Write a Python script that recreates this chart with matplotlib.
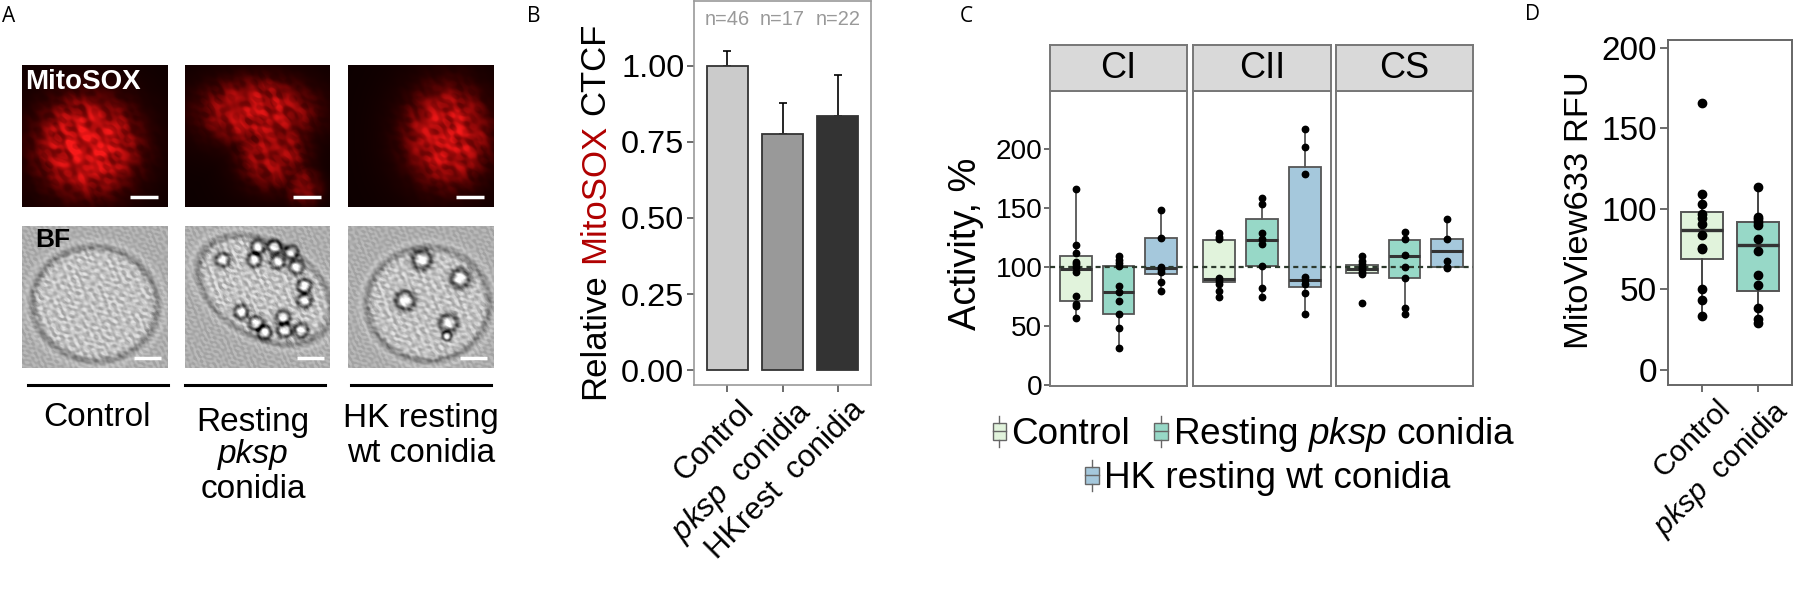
import numpy as np
import matplotlib
matplotlib.use("Agg")
import matplotlib.pyplot as plt
from matplotlib.patches import Rectangle, Patch
from matplotlib.lines import Line2D
from matplotlib.legend_handler import HandlerBase
from matplotlib.transforms import ScaledTranslation

W, H, DPI = 1794, 590, 100
plt.rcParams['font.family'] = ['Liberation Sans', 'DejaVu Sans']
plt.rcParams['mathtext.fontset'] = 'custom'
plt.rcParams['mathtext.rm'] = 'Liberation Sans'
plt.rcParams['mathtext.it'] = 'Liberation Sans:italic'
plt.rcParams['mathtext.bf'] = 'Liberation Sans:bold'

# ---------------- data ----------------
# Panel B
b_categories = ['Control', r'$\mathit{pksp}$  conidia', 'HKrest  conidia']
b_means = [1.00, 0.777, 0.835]
b_err_upper = [0.049, 0.102, 0.135]
b_n_labels = ['n=46', 'n=17', 'n=22']
b_ticks = [0.0, 0.25, 0.50, 0.75, 1.00]
b_colors = ['#cbcbcb', '#999999', '#333333']

# Panel C
c_groups = ['Control', r'Resting $\mathit{pksp}$ conidia', 'HK resting wt conidia']
c_facets = ['CI', 'CII', 'CS']
c_points_CI = [
    [166, 119, 111.6, 104.5, 102.5, 99.7, 95.8, 75.4, 69, 67, 57],
    [109, 106, 103.7, 101, 84, 78.5, 71.5, 60, 48, 31.6],
    [148, 125, 100, 98, 96, 87, 80],
]
c_points_CII = [
    [128.5, 125.7, 123.4, 91, 88, 86, 80, 75],
    [158.5, 153, 128.5, 123.4, 119.5, 101, 82.5, 75],
    [216.7, 202, 179, 91.8, 89, 86, 78, 60],
]
c_points_CS = [
    [109.6, 105, 102.5, 100, 98, 96, 94, 69.7],
    [130, 123.5, 110, 100, 91, 65, 60],
    [140.7, 123.7, 105, 100, 99],
]
# box statistics: [whisker low, Q1, median, Q3, whisker high]
c_box_CI = [[57, 71, 98, 109, 166], [31.6, 60, 79, 101, 109], [80, 94, 99, 125, 148]]
c_box_CII = [[75, 87, 90, 123, 128.5], [75, 101, 123, 141, 158.5], [60, 83, 89, 185, 216.7]]
c_box_CS = [[94, 95, 98, 102, 109.6], [60, 91, 109, 123, 130], [99, 100, 114, 124, 140.7]]
c_ticks = [0, 50, 100, 150, 200]
c_reference = 100
group_colors = ['#e1f3dc', '#97d8c7', '#a5c8dc']

# Panel D
d_categories = ['Control', r'$\mathit{pksp}$  conidia']
d_points = [
    [165.6, 109.3, 103, 96.9, 94.4, 90.3, 83.5, 75.8, 74.8, 50.1, 43.3, 33.3],
    [113.3, 95, 93.4, 91.9, 89.9, 81.4, 73.7, 58.8, 52.4, 38.1, 31.3, 29.2],
]
d_box = [[33.3, 68.8, 86.6, 98, 109.3], [29.2, 48.9, 77.5, 91.7, 113.3]]
d_ticks = [0, 50, 100, 150, 200]

# ---------------- helpers ----------------
def px_rect(x0, y0, x1, y1):
    return [x0 / W, 1 - y1 / H, (x1 - x0) / W, (y1 - y0) / H]


def to_stats(box):
    return [dict(whislo=b[0], q1=b[1], med=b[2], q3=b[3], whishi=b[4], fliers=[]) for b in box]


def grid(h=142, w=145):
    y, x = np.mgrid[0:h, 0:w]
    return x / (w - 1), y / (h - 1)


TEX_FX = [37, -29, 53, 17, -61, 44, 23, -47, 71, -13]
TEX_FY = [21, 43, -19, 57, 31, -38, -66, 12, -27, 69]
TEX_PH = [0.3, 1.7, 2.9, 4.1, 5.3, 0.9, 2.2, 3.6, 1.1, 4.8]


def texture(X, Y, scale=1.0, shift=0.0):
    t = np.zeros_like(X)
    for fx, fy, ph in zip(TEX_FX, TEX_FY, TEX_PH):
        t += np.sin(scale * (fx * X + fy * Y) + ph + shift)
    return np.tanh(t / 2.2)


def mito_img(blobs, gain, shift):
    X, Y = grid()
    I = np.zeros_like(X)
    halo = np.zeros_like(X)
    for cx, cy, rx, ry, amp in blobs:
        d = np.sqrt(((X - cx) / rx) ** 2 + ((Y - cy) / ry) ** 2)
        I = np.maximum(I, amp / (1 + np.exp((d - 0.95) / 0.18)))
        halo = np.maximum(halo, amp * np.exp(-(d / 1.5) ** 2))
    tex = 0.6 * texture(X, Y, 0.8, shift) + 0.4 * texture(X, Y, 1.6, shift + 1.0)
    I = I * (0.66 + 0.34 * tex) * gain + 0.16 * halo
    I = np.clip(I, 0, 1)
    rgb = np.stack([0.05 + 0.92 * I, 0.0 + 0.1 * I ** 2, 0.0 + 0.1 * I ** 2], axis=-1)
    return np.clip(rgb, 0, 1)


def bf_img(cell, conidia, shift, ring=0.06):
    X, Y = grid()
    img = 0.68 + 0.05 * texture(X, Y, 3.0, shift)
    cx, cy, rx, ry, ang = cell
    ca, sa = np.cos(ang), np.sin(ang)
    dx, dy = X - cx, Y - cy
    u = (dx * ca + dy * sa) / rx
    v = (-dx * sa + dy * ca) / ry
    d = np.sqrt(u ** 2 + v ** 2)
    inside = 1 / (1 + np.exp((d - 1) / 0.03))
    img = img + inside * (0.08 + 0.10 * texture(X, Y, 2.2, shift + 2.0))
    img = img - 0.24 * np.exp(-((d - 1) / ring) ** 2) * (0.8 + 0.2 * texture(X, Y, 1.3, shift))
    img = img + 0.06 * np.exp(-((d - 1.12) / 0.05) ** 2)
    for px_, py_, r in conidia:
        dd = np.sqrt((X - px_) ** 2 + (Y - py_) ** 2)
        img = img - 0.45 * np.exp(-((dd - r) / (0.4 * r)) ** 2)
        img = img + 0.35 * np.exp(-(dd / (0.7 * r)) ** 2)
    return np.clip(img, 0, 1)


class BoxKeyHandler(HandlerBase):
    def create_artists(self, legend, orig_handle, xdescent, ydescent, width, height, fontsize, trans):
        fc = orig_handle.get_facecolor()
        cx = -xdescent + width / 2
        y0 = -ydescent - height * 0.15
        hh = height * 1.3
        bw = width
        bh = hh * 0.55
        by = y0 + (hh - bh) / 2
        rect = Rectangle((cx - bw / 2, by), bw, bh, facecolor=fc, edgecolor='#666666', lw=1.0, transform=trans)
        med = Line2D([cx - bw / 2, cx + bw / 2], [y0 + hh / 2] * 2, color='#666666', lw=1.0, transform=trans)
        w1 = Line2D([cx, cx], [y0, by], color='#666666', lw=1.0, transform=trans)
        w2 = Line2D([cx, cx], [by + bh, y0 + hh], color='#666666', lw=1.0, transform=trans)
        return [rect, med, w1, w2]


fig = plt.figure(figsize=(W / DPI, H / DPI), dpi=DPI)

# overlay axes in pixel coordinates for free text and lines
ov = fig.add_axes([0, 0, 1, 1])
ov.set_xlim(0, W)
ov.set_ylim(H, 0)
ov.axis('off')

# ---------------- Panel A ----------------
mito_specs = [
    ([(0.45, 0.57, 0.33, 0.33, 1.0)], 1.0, 0.0),
    ([(0.50, 0.33, 0.36, 0.22, 1.0), (0.60, 0.60, 0.22, 0.25, 0.85), (0.82, 0.86, 0.12, 0.13, 0.6)], 0.8, 1.5),
    ([(0.68, 0.50, 0.27, 0.33, 1.0)], 0.9, 3.0),
]
bf_specs = [
    ((0.50, 0.55, 0.43, 0.40, 0.2), [], 0.0),
    ((0.55, 0.45, 0.50, 0.33, 0.55),
     [(0.259, 0.237, 0.045), (0.502, 0.145, 0.045), (0.618, 0.145, 0.045), (0.734, 0.184, 0.045),
      (0.479, 0.237, 0.045), (0.641, 0.25, 0.045), (0.769, 0.289, 0.045), (0.826, 0.421, 0.045),
      (0.826, 0.526, 0.045), (0.387, 0.605, 0.045), (0.491, 0.684, 0.045), (0.549, 0.75, 0.045),
      (0.676, 0.645, 0.045), (0.688, 0.737, 0.045), (0.803, 0.737, 0.045)], 1.0),
    ((0.55, 0.55, 0.42, 0.40, 0.0),
     [(0.506, 0.237, 0.06), (0.77, 0.368, 0.06), (0.39, 0.526, 0.06), (0.69, 0.684, 0.055),
      (0.678, 0.776, 0.03)], 2.0),
]
cols_x = [(22, 167), (185, 330), (348, 493)]
for i, (x0, x1) in enumerate(cols_x):
    am = fig.add_axes(px_rect(x0, 65, x1, 207))
    am.imshow(mito_img(*mito_specs[i]), aspect='auto', interpolation='bilinear')
    am.axis('off')
    am.plot([0.745, 0.94], [0.07, 0.07], color='white', lw=2.5, transform=am.transAxes, solid_capstyle='butt')
    ab = fig.add_axes(px_rect(x0, 226, x1, 368))
    ab.imshow(bf_img(*bf_specs[i]), cmap='gray', vmin=0, vmax=1, aspect='auto', interpolation='bilinear')
    ab.axis('off')
    ab.plot([0.77, 0.96], [0.07, 0.07], color='white', lw=2.5, transform=ab.transAxes, solid_capstyle='butt')
    if i == 0:
        am.text(0.02, 0.88, 'MitoSOX', color='white', fontsize=20, fontweight='bold',
                transform=am.transAxes, ha='left', va='center')
        ab.text(0.09, 0.90, 'BF', color='black', fontsize=19, fontweight='bold',
                transform=ab.transAxes, ha='left', va='center')

for (x0, x1) in [(28, 168), (185, 325), (351, 491)]:
    ov.plot([x0, x1], [385.3, 385.3], color='black', lw=2.2)

ov.text(97, 417, 'Control', fontsize=24, ha='center', va='center')
ov.text(253, 423, 'Resting', fontsize=24, ha='center', va='center')
ov.text(253, 455, 'pksp', fontsize=24, ha='center', va='center', fontstyle='italic')
ov.text(253, 489, 'conidia', fontsize=24, ha='center', va='center')
ov.text(421, 419, 'HK resting', fontsize=24, ha='center', va='center')
ov.text(421, 453, 'wt conidia', fontsize=24, ha='center', va='center')

# panel letters
for lab, x, y in [('A', 2, 17), ('B', 527, 17), ('C', 960, 17), ('D', 1525, 14)]:
    ov.text(x, y, lab, fontsize=15, ha='left', va='center', family=['Open Sans', 'DejaVu Sans'])

# ---------------- Panel B ----------------
axb = fig.add_axes(px_rect(694, 1, 871, 385))
xb = np.arange(1, len(b_means) + 1)
axb.errorbar(xb, b_means, yerr=[np.zeros(len(b_means)), b_err_upper], fmt='none',
             ecolor='black', elinewidth=1.2, capsize=3, capthick=1.2, zorder=2)
axb.bar(xb, b_means, width=0.74, color=b_colors, edgecolor='#333333', linewidth=1.3, zorder=3)
for x, lab in zip(xb, b_n_labels):
    axb.text(x, 1.153, lab, color='#999999', fontsize=14.4, ha='center', va='center')
axb.set_xlim(0.4, 3.6)
axb.set_ylim(-0.049, 1.213)
axb.set_yticks(b_ticks)
axb.set_yticklabels(['%.2f' % t for t in b_ticks])
axb.set_xticks(xb)
axb.set_xticklabels(b_categories, rotation=45, ha='right', va='top', rotation_mode='anchor')
axb.tick_params(axis='y', length=5, width=1.1, color='#444444', labelsize=23.4, pad=2)
axb.tick_params(axis='x', length=5, width=1.1, color='#444444', labelsize=22.3, pad=2)
for lab in axb.get_xticklabels():
    lab.set_transform(lab.get_transform() + ScaledTranslation(0.12, 0, fig.dpi_scale_trans))
for sp in axb.spines.values():
    sp.set_color('#999999')
    sp.set_linewidth(1.2)

# multi-coloured y label for B
renderer = fig.canvas.get_renderer()
parts = [('Relative', 'black'), ('MitoSOX', '#b00000'), ('CTCF', 'black')]
fs_b = 25
tmp = ov.text(0, 0, 'a a', fontsize=fs_b, rotation=90)
tmp2 = ov.text(0, 0, 'aa', fontsize=fs_b, rotation=90)
space = tmp.get_window_extent(renderer).height - tmp2.get_window_extent(renderer).height
tmp.remove(); tmp2.remove()
lens = []
for s, c in parts:
    t = ov.text(0, 0, s, fontsize=fs_b, rotation=90)
    lens.append(t.get_window_extent(renderer).height)
    t.remove()
total = sum(lens) + space * (len(parts) - 1)
ycur = 210.5 + total / 2
for (s, c), L in zip(parts, lens):
    ov.text(595, ycur, s, fontsize=fs_b, rotation=90, color=c, ha='center', va='bottom')
    ycur -= L + space

# ---------------- Panel C ----------------
c_points = [c_points_CI, c_points_CII, c_points_CS]
c_boxes = [c_box_CI, c_box_CII, c_box_CS]
facet_x = [(1050, 1187), (1193, 1331), (1336, 1473)]
pos = np.array([-1.0, 0.0, 1.0])
for k, (fx0, fx1) in enumerate(facet_x):
    ax = fig.add_axes(px_rect(fx0, 91, fx1, 386))
    bp = ax.bxp(to_stats(c_boxes[k]), positions=pos, widths=0.74, patch_artist=True,
                showfliers=False, showcaps=False,
                boxprops=dict(edgecolor='#555555', linewidth=1.3),
                whiskerprops=dict(color='#555555', linewidth=1.3),
                medianprops=dict(color='#333333', linewidth=2.2), zorder=2)
    for patch, col in zip(bp['boxes'], group_colors):
        patch.set_facecolor(col)
    ax.axhline(c_reference, color='#2d3a2d', lw=1.6, ls=(0, (2.3, 1.8)), zorder=3)
    for p, pts in zip(pos, c_points[k]):
        ax.plot([p] * len(pts), pts, 'o', color='black', ms=4.6, zorder=4, mec='black')
    ax.set_xlim(-1.6, 1.6)
    ax.set_ylim(-0.85, 249.2)
    ax.set_xticks([])
    if k == 0:
        ax.set_yticks(c_ticks)
        ax.tick_params(axis='y', length=4, width=1.1, color='#444444', labelsize=20.2, pad=1.5)
    else:
        ax.set_yticks([])
    for sp in ax.spines.values():
        sp.set_color('#777777')
        sp.set_linewidth(1.4)
    st = fig.add_axes(px_rect(fx0, 45, fx1, 91))
    st.set_facecolor('#d9d9d9')
    st.set_xticks([]); st.set_yticks([])
    for sp in st.spines.values():
        sp.set_color('#777777')
        sp.set_linewidth(1.4)
    st.text(0.5, 0.5, c_facets[k], fontsize=26, ha='center', va='center', transform=st.transAxes)

ov.text(966, 244, 'Activity, %', fontsize=27.4, rotation=90, ha='center', va='center')

handles = [Patch(facecolor=c) for c in group_colors]
leg1 = fig.legend(handles[:2], c_groups[:2], handler_map={Patch: BoxKeyHandler()}, ncol=2,
                  loc='center', bbox_to_anchor=(1254 / W, 1 - 435 / H), frameon=False, fontsize=26.6,
                  handlelength=0.36, handleheight=0.6, handletextpad=0.15, columnspacing=0.65,
                  borderpad=0, borderaxespad=0)
leg2 = fig.legend(handles[2:], c_groups[2:], handler_map={Patch: BoxKeyHandler()}, ncol=1,
                  loc='center', bbox_to_anchor=(1268 / W, 1 - 479 / H), frameon=False, fontsize=26.6,
                  handlelength=0.36, handleheight=0.6, handletextpad=0.15,
                  borderpad=0, borderaxespad=0)

# ---------------- Panel D ----------------
axd = fig.add_axes(px_rect(1668, 40, 1792, 385))
xd = np.arange(1, len(d_box) + 1)
bpd = axd.bxp(to_stats(d_box), positions=xd, widths=0.75, patch_artist=True,
              showfliers=False, showcaps=False,
              boxprops=dict(edgecolor='#555555', linewidth=1.4),
              whiskerprops=dict(color='#444444', linewidth=1.4),
              medianprops=dict(color='#333333', linewidth=2.4), zorder=2)
for patch, col in zip(bpd['boxes'], group_colors[:2]):
    patch.set_facecolor(col)
for x, pts in zip(xd, d_points):
    axd.plot([x] * len(pts), pts, 'o', color='black', ms=6, zorder=4)
axd.set_xlim(0.4, 2.6)
axd.set_ylim(-9.5, 204.8)
axd.set_yticks(d_ticks)
axd.set_xticks(xd)
axd.set_xticklabels(d_categories, rotation=45, ha='right', va='top', rotation_mode='anchor')
axd.tick_params(axis='y', length=6, width=1.1, color='#444444', labelsize=24, pad=2)
axd.tick_params(axis='x', length=5, width=1.1, color='#444444', labelsize=21.5, pad=2)
for lab in axd.get_xticklabels():
    lab.set_transform(lab.get_transform() + ScaledTranslation(0.14, 0, fig.dpi_scale_trans))
for sp in axd.spines.values():
    sp.set_color('#666666')
    sp.set_linewidth(1.4)
ov.text(1579, 210, 'MitoView633 RFU', fontsize=24.8, rotation=90, ha='center', va='center')

fig.savefig('out.png', dpi=DPI)
